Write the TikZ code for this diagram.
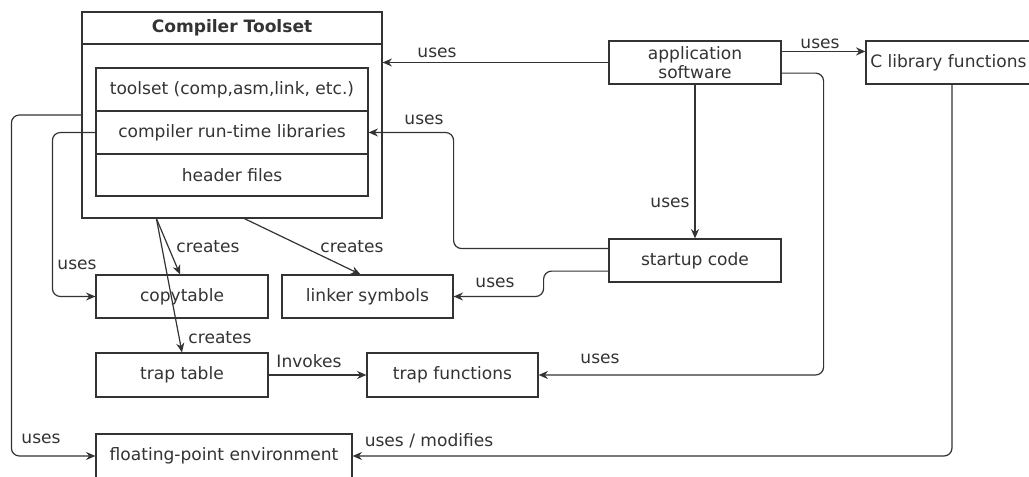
\documentclass[tikz,border=0pt]{standalone}
\usepackage{fontspec}
\setmainfont{DejaVu Sans}
\usetikzlibrary{arrows.meta,calc}
\definecolor{ink}{HTML}{333333}
\begin{document}
\begin{tikzpicture}[x=0.75pt,y=-0.75pt,
  every node/.style={font=\fontsize{12.8}{14.5}\selectfont, text=ink},
  box/.style={draw=ink, line width=0.9pt, inner sep=0pt, fill=white},
  sz/.style 2 args={minimum width=#1*0.75pt, minimum height=#2*0.75pt},
  lbl/.style={inner sep=0pt},
  conn/.style={draw=ink, line width=0.9pt, rounded corners=6pt, -{Stealth[length=7pt,width=6pt]}},
  plain/.style={draw=ink, line width=0.9pt}]
\useasboundingbox[fill=white] (0,0) rectangle (1029,477);

% Compiler Toolset
\node[box, sz={300}{206}] (tool) at (232,115) {};
\node[lbl, font=\fontsize{12.8}{14.5}\selectfont\bfseries] (tooltitle) at (232,28) {Compiler Toolset};
\coordinate (tl) at (82,44);
\coordinate (tr) at (382,44);
\draw[plain] (tl) -- (tr);
\node[box, sz={272}{43}] (row1) at (232,89.5) {toolset (comp,asm,link, etc.)};
\node[box, sz={272}{43}] (row2) at (232,132.5) {compiler run-time libraries};
\node[box, sz={272}{42}] (row3) at (232,175) {header files};

% other boxes
\node[box, sz={172}{43}, align=center, font=\fontsize{12.8}{14}\selectfont] (app) at (695,62.5) {application\\software};
\node[box, sz={172}{43}] (clib) at (952,62.5) {};
\node[lbl, anchor=west] (clibtext) at (870,62.5) {C library functions};
\node[box, sz={172}{43}] (startup) at (695,260.5) {startup code};
\node[box, sz={172}{43}] (copy) at (182,296.5) {copytable};
\node[box, sz={171}{43}] (linker) at (367.5,296.5) {linker symbols};
\node[box, sz={172}{44}] (traptab) at (182,375) {trap table};
\node[box, sz={171}{44}] (trapfun) at (452.5,375) {trap functions};
\node[box, sz={256}{44}] (fpe) at (224,456) {floating-point environment};

% connectors
\draw[conn] (app.west) -- (tool.east |- app.west);
\coordinate (appA) at ($(app.north east)!0.25!(app.south east)$);
\draw[conn, line width=1.3pt] (appA) -- (clib.west |- appA);
\draw[conn] (app.south) -- (startup.north);
\coordinate (stA) at ($(startup.north west)!0.23!(startup.south west)$);
\draw[conn] (stA) -| ($(row2.east)+(85,0)$) -- (row2.east);
\coordinate (stB) at ($(startup.north west)!0.74!(startup.south west)$);
\draw[conn] (stB) -| ($(linker.east)+(90,0)$) -- (linker.east);
\coordinate (appB) at ($(app.north east)!0.74!(app.south east)$);
\draw[conn] (appB) -| ($(trapfun.east)+(285,0)$) -- (trapfun.east);
\draw[conn] (clib.south) |- (fpe.east);
\draw[conn] (tool.west) -| ($(fpe.west)+(-84,0)$) -- (fpe.west);
\draw[conn] (row2.west) -| ($(copy.west)+(-43,0)$) -- (copy.west);
\coordinate (tb1) at ($(tool.south west)+(75,0)$);
\coordinate (tb2) at ($(tool.south west)+(163,0)$);
\draw[conn] (tb1) -- ($(copy.north)+(-2,0)$);
\draw[conn] (tb1) -- (traptab.north);
\draw[conn] (tb2) -- ($(linker.north)+(-7,0)$);
\draw[conn] (traptab.east) -- (trapfun.west);

% labels
\node[lbl] (u1) at (437,53) {uses};
\node[lbl] (u2) at (820,44) {uses};
\node[lbl] (u3) at (670,203) {uses};
\node[lbl] (u4) at (424,120) {uses};
\node[lbl] (u5) at (495,283) {uses};
\node[lbl] (u6) at (600,359) {uses};
\node[lbl] (u7) at (429,441) {uses / modifies};
\node[lbl] (u8) at (41,439) {uses};
\node[lbl] (u9) at (77,265) {uses};
\node[lbl] (c1) at (208,247) {creates};
\node[lbl] (c2) at (352,247) {creates};
\node[lbl] (c3) at (220,338) {creates};
\node[lbl] (inv) at (309,361) {Invokes};
\end{tikzpicture}
\end{document}
